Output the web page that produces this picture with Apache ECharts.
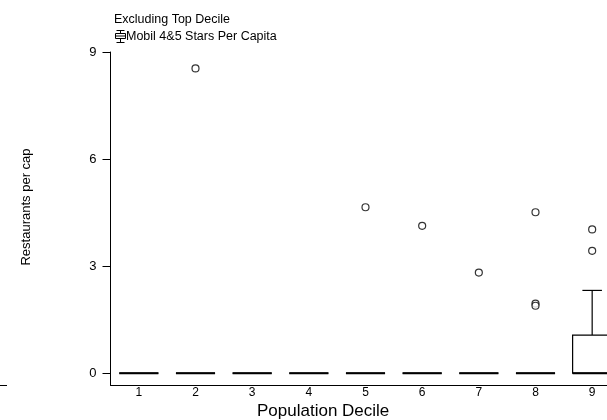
<!DOCTYPE html>
<html>
<head>
<meta charset="utf-8">
<script src="https://cdn.jsdelivr.net/npm/echarts@6/dist/echarts.min.js"></script>
<style>
html, body { margin: 0; padding: 0; background: #fff; }
#chart { width: 607px; height: 420px; }
</style>
</head>
<body>
<div id="chart"></div>
<script>
var deciles = ['1', '2', '3', '4', '5', '6', '7', '8', '9'];
// [min, Q1, median, Q3, max]
var boxes = [
	[0, 0, 0, 0, 0],
	[0, 0, 0, 0, 0],
	[0, 0, 0, 0, 0],
	[0, 0, 0, 0, 0],
	[0, 0, 0, 0, 0],
	[0, 0, 0, 0, 0],
	[0, 0, 0, 0, 0],
	[0, 0, 0, 0, 0],
	[0, 0, 0, 1.07, 2.32]
];
// [decile index, value]
var outliers = [
	[1, 8.54],
	[4, 4.65],
	[5, 4.13],
	[6, 2.82],
	[7, 4.51], [7, 1.95], [7, 1.89],
	[8, 4.03], [8, 3.43]
];
var yTicks = [0, 3, 6, 9];

var font = 'Liberation Sans, Arial, sans-serif';

// box drawn with half-width whisker caps, like the original
function renderBox(params, api){
	var i = api.value(0);
	var half = api.size([1, 0])[0] * 0.345;
	var cap = half / 2;
	var pMin = api.coord([i, api.value(1)]);
	var pQ1 = api.coord([i, api.value(2)]);
	var pMed = api.coord([i, api.value(3)]);
	var pQ3 = api.coord([i, api.value(4)]);
	var pMax = api.coord([i, api.value(5)]);
	var cx = pMed[0];
	var st = {stroke: '#000', lineWidth: 1.2};
	var kids = [
		{type: 'rect', shape: {x: cx - half, y: pQ3[1], width: half * 2, height: pQ1[1] - pQ3[1]},
			style: {fill: '#fff', stroke: '#000', lineWidth: 1.2}},
		{type: 'line', shape: {x1: cx - half, y1: pMed[1], x2: cx + half, y2: pMed[1]},
			style: {stroke: '#000', lineWidth: 2}}
	];
	if(pMax[1] < pQ3[1]){
		kids.push({type: 'line', shape: {x1: cx, y1: pQ3[1], x2: cx, y2: pMax[1]}, style: st});
		kids.push({type: 'line', shape: {x1: cx - cap, y1: pMax[1], x2: cx + cap, y2: pMax[1]}, style: st});
	}
	if(pMin[1] > pQ1[1]){
		kids.push({type: 'line', shape: {x1: cx, y1: pQ1[1], x2: cx, y2: pMin[1]}, style: st});
		kids.push({type: 'line', shape: {x1: cx - cap, y1: pMin[1], x2: cx + cap, y2: pMin[1]}, style: st});
	}
	return {type: 'group', children: kids};
}

var chart = echarts.init(document.getElementById('chart'));
chart.setOption({
	animation: false,
	backgroundColor: '#fff',
	textStyle: {fontFamily: font, color: '#000'},
	title: [{
		text: 'Excluding Top Decile',
		left: 109, top: 8,
		textStyle: {fontSize: 12.5, fontWeight: 'normal', color: '#000', fontFamily: font}
	}, {
		text: 'Population Decile',
		left: 252, top: 398,
		textStyle: {fontSize: 17, fontWeight: 'normal', color: '#000', fontFamily: font}
	}],
	legend: {
		left: 108, top: 23,
		itemWidth: 11, itemHeight: 12, itemGap: 4,
		textStyle: {fontSize: 12.5, color: '#000', fontFamily: font, padding: [0, 0, 0, -5]},
		data: [{
			name: 'Mobil 4&5 Stars Per Capita',
			icon: 'path://M5,0L5,3M1,0L9,0M0,3L10,3L10,8L0,8ZM0,5.5L10,5.5M5,8L5,12M1,12L9,12',
			itemStyle: {color: 'none', borderColor: '#000', borderWidth: 1}
		}]
	},
	grid: {left: 110.5, width: 510, top: 52, bottom: 35, containLabel: false, outerBoundsMode: 'none'},
	xAxis: {
		type: 'category',
		data: deciles,
		boundaryGap: true,
		axisLine: {onZero: false, lineStyle: {color: '#000', width: 1}},
		axisTick: {show: false},
		axisLabel: {fontSize: 12, color: '#000', margin: 2},
		splitLine: {show: false}
	},
	yAxis: {
		type: 'value',
		min: -0.33, max: 9,
		axisLine: {show: true, lineStyle: {color: '#000', width: 1}},
		axisTick: {show: true, length: 8, customValues: yTicks, lineStyle: {color: '#000'}},
		axisLabel: {fontSize: 13, color: '#000', margin: 14, customValues: yTicks},
		splitLine: {show: false}
	},
	graphic: [{
		type: 'line',
		shape: {x1: 0, y1: 385.5, x2: 7, y2: 385.5},
		style: {stroke: '#000', lineWidth: 1}
	}, {
		type: 'text',
		x: 26, y: 207,
		rotation: Math.PI / 2,
		style: {
			text: 'Restaurants per cap',
			font: '13px Liberation Sans, Arial, sans-serif',
			fill: '#000',
			align: 'center',
			verticalAlign: 'middle'
		}
	}],
	series: [{
		name: 'Mobil 4&5 Stars Per Capita',
		type: 'custom',
		renderItem: renderBox,
		clip: false,
		itemStyle: {color: '#000'},
		encode: {x: 0, y: [1, 2, 3, 4, 5]},
		data: boxes.map(function(b, i){ return [i].concat(b); })
	}, {
		type: 'scatter',
		data: outliers,
		symbol: 'circle',
		symbolSize: 7,
		itemStyle: {color: '#fff', borderColor: '#000', borderWidth: 1.2},
		emphasis: {disabled: true}
	}]
});
</script>
</body>
</html>
